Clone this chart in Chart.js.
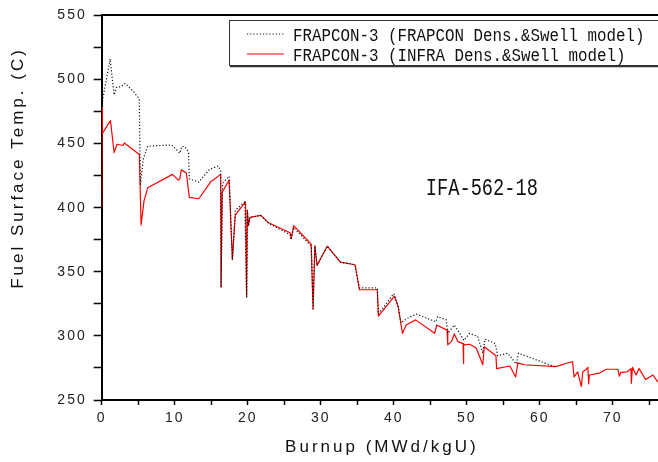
<!DOCTYPE html>
<html>
<head>
<meta charset="utf-8">
<script src="https://cdn.jsdelivr.net/npm/chart.js@4.4.1/dist/chart.umd.min.js"></script>
<style>
  html, body { margin: 0; padding: 0; background: #fff; }
  #wrap { width: 658px; height: 462px; position: relative; }
</style>
</head>
<body>
<div id="wrap"><canvas id="chart" width="658" height="462"></canvas></div>
<script>
// FRAPCON-3 with FRAPCON densification & swelling model (dotted black)
const frapconBurnup = [0, 0.1, 1.15, 1.7, 2.05, 2.7, 3.2, 4.2, 5.15, 5.3, 5.7, 6.3, 9.6, 10.7, 11.0, 11.4, 11.9, 12.0,
  13.3, 14.8, 15.95, 16.3, 16.35, 16.55, 17.45, 17.9, 18.3, 19.6, 19.85, 19.95, 20.1, 20.3, 21.8, 22.8, 25.8, 25.95,
  26.3, 28.7, 28.95, 29.2, 29.5, 30.1, 30.9, 32.7, 34.7, 35.3, 37.75, 37.9, 40.0, 40.6, 41.0, 41.8, 43.1, 45.8, 46.0,
  47.2, 47.4, 48.3, 49.2, 49.6, 50.4, 51.5, 52.2, 52.5, 53.9, 54.25, 55.6, 56.8, 57.1, 61.8, 62.2];
const frapconTemp = [478, 483, 516, 488, 494, 494.5, 497, 491.5, 485, 417.5, 438, 448, 449, 442.5, 448, 447.5, 443.5, 422.5,
  420, 430, 432.5, 429, 338, 419, 424.5, 359.5, 398, 404.5, 330.5, 398, 386, 392.5, 394, 388, 379, 375,
  384.5, 370, 321, 370, 355, 361.5, 370, 357.5, 355.5, 337.5, 337.5, 317, 333, 323, 310, 313.5, 317, 311, 315,
  312.5, 302, 308.5, 300.5, 296.5, 302, 299.5, 286.5, 297.5, 294, 284.5, 286.5, 278, 286.5, 276.5, 276];

// FRAPCON-3 with INFRA densification & swelling model (solid red)
const infraBurnup = [0, 0.05, 0.1, 1.2, 1.7, 2.1, 2.9, 3.1, 5.15, 5.4, 5.8, 6.3, 9.7, 10.5, 10.7, 10.9, 11.6, 12.0, 13.3,
  14.9, 16.3, 16.35, 16.5, 17.45, 17.9, 18.3, 19.7, 19.85, 19.95, 20.1, 20.3, 21.8, 22.8, 25.8, 25.95, 26.3, 28.7,
  28.95, 29.2, 29.5, 30.1, 30.9, 32.7, 34.7, 35.3, 37.75, 37.9, 40.1, 40.6, 41.2, 41.7, 42.2, 43.0, 45.6, 45.9, 47.3,
  47.4, 47.9, 48.3, 48.8, 49.5, 49.55, 49.6, 50.4, 51.3, 52.2, 52.4, 54.0, 54.1, 55.9, 56.7, 57.0, 57.9, 62.2, 64.5,
  64.7, 65.2, 65.7, 65.9, 66.3, 66.6, 66.7, 66.8, 68.2, 69.1, 70.7, 70.9, 71.1, 72.0, 72.5, 72.55, 72.7, 73.2, 73.6,
  74.5, 75.5, 76.2];
const infraTemp = [400, 478, 458, 468, 443, 449.5, 448.5, 450.5, 441.5, 386.5, 405.5, 415.5, 426, 421.5, 422.5, 429.5, 427, 408, 407,
  420, 426, 338, 412, 421.5, 359.5, 394.5, 404.5, 330.5, 398, 386, 392.5, 394, 388.5, 380.5, 376, 386, 371.5,
  321, 370.5, 355, 361.5, 370, 357.5, 355.5, 336, 336, 315.5, 331, 323, 302, 308.5, 310, 312.5, 302, 308.5, 304.5,
  293, 295.5, 301.5, 295.5, 294, 278.5, 293, 293.5, 290.5, 277.5, 291.5, 284.5, 274.5, 276.5, 268, 279, 277.5, 276, 280,
  268, 272, 260.5, 272, 273.5, 275.5, 262.5, 269.5, 271, 274, 274, 268.5, 271.5, 272, 274.5, 263, 275.5, 269.5, 274.5,
  266, 269.5, 264];

const seriesLabels = ['FRAPCON-3 (FRAPCON Dens.&Swell model)', 'FRAPCON-3 (INFRA Dens.&Swell model)'];
const xTitle = 'Burnup (MWd/kgU)';
const yTitle = 'Fuel Surface Temp. (C)';
const noteText = 'IFA-562-18';
const xRange = [0, 76.2];
const yRange = [250, 550];
const xTickStep = 5, xLabelStep = 10;
const yTickStep = 25, yLabelStep = 50;

const toPoints = (xs, ys) => xs.map((x, i) => ({ x: x, y: ys[i] }));

const decorations = {
  id: 'decorations',
  beforeDraw(chart) {
    chart.ctx.letterSpacing = '2px';
  },
  afterDraw(chart) {
    const ctx = chart.ctx;
    const area = chart.chartArea;
    const xs = chart.scales.x, ys = chart.scales.y;
    ctx.save();

    // axis titles
    ctx.fillStyle = '#111';
    ctx.font = '17px "Liberation Sans", Arial, sans-serif';
    ctx.letterSpacing = '3px';
    ctx.textAlign = 'center';
    ctx.textBaseline = 'middle';
    ctx.fillText(xTitle, (area.left + area.right) / 2 + 2, 447);
    ctx.save();
    ctx.translate(18, 168);
    ctx.rotate(-Math.PI / 2);
    ctx.fillText(yTitle, 0, 0);
    ctx.restore();

    // legend box
    ctx.letterSpacing = '0px';
    ctx.fillStyle = '#fff';
    ctx.fillRect(229.5, 20.5, 440, 45);
    ctx.strokeStyle = '#333';
    ctx.lineWidth = 1;
    ctx.strokeRect(229.5, 20.5, 440, 45);
    ctx.lineWidth = 1.5;
    ctx.beginPath();
    ctx.moveTo(230, 66.5); ctx.lineTo(670, 66.5);
    ctx.stroke();

    const ds = chart.data.datasets;
    const rows = [34, 54];
    ds.forEach((d, i) => {
      ctx.save();
      ctx.strokeStyle = d.borderColor;
      ctx.lineWidth = d.borderWidth;
      ctx.setLineDash(d.borderDash || []);
      ctx.beginPath();
      ctx.moveTo(247, rows[i]); ctx.lineTo(284, rows[i]);
      ctx.stroke();
      ctx.restore();
      ctx.fillStyle = '#111';
      ctx.font = '18px "Liberation Mono", monospace';
      ctx.textAlign = 'left';
      ctx.textBaseline = 'alphabetic';
      const w = d.label.length * 9.5;
      ctx.fillText(d.label, 293, rows[i] + 7, w);
    });

    // annotation
    ctx.font = '24px "Liberation Mono", monospace';
    ctx.textAlign = 'left';
    ctx.textBaseline = 'alphabetic';
    ctx.fillStyle = '#111';
    ctx.fillText(noteText, xs.getPixelForValue(44.4), ys.getPixelForValue(410), 112);
    ctx.restore();
  }
};

new Chart(document.getElementById('chart'), {
  type: 'line',
  data: {
    datasets: [
      {
        label: seriesLabels[0],
        data: toPoints(frapconBurnup, frapconTemp),
        borderColor: '#111',
        borderWidth: 1.2,
        borderDash: [1.2, 2],
        borderJoinStyle: 'round',
        pointRadius: 0,
        tension: 0,
        fill: false
      },
      {
        label: seriesLabels[1],
        data: toPoints(infraBurnup, infraTemp),
        borderColor: '#ff0000',
        borderWidth: 1.2,
        borderJoinStyle: 'round',
        pointRadius: 0,
        tension: 0,
        fill: false
      }
    ]
  },
  options: {
    responsive: false,
    animation: false,
    devicePixelRatio: 1,
    layout: { padding: 0 },
    plugins: {
      legend: { display: false },
      tooltip: { enabled: false }
    },
    scales: {
      x: {
        type: 'linear',
        position: 'bottom',
        min: xRange[0],
        max: xRange[1],
        afterFit: (s) => { s.height = 62; },
        border: { color: '#000', width: 2 },
        grid: { drawOnChartArea: false, drawTicks: true, tickLength: 5, tickColor: '#000', tickWidth: 1.5 },
        ticks: {
          stepSize: xTickStep,
          includeBounds: false,
          autoSkip: false,
          maxRotation: 0,
          padding: 5,
          color: '#222',
          font: { family: '"Liberation Sans", Arial, sans-serif', size: 14 },
          callback: (v) => (v % xLabelStep === 0 ? String(v) : '')
        }
      },
      xTop: {
        type: 'linear',
        position: 'top',
        min: xRange[0],
        max: xRange[1],
        afterFit: (s) => { s.height = 15; },
        border: { color: '#000', width: 2 },
        grid: { display: false },
        ticks: { display: false }
      },
      y: {
        type: 'linear',
        min: yRange[0],
        max: yRange[1],
        afterFit: (s) => { s.width = 101.7; },
        border: { color: '#000', width: 2 },
        grid: { drawOnChartArea: false, drawTicks: true, tickLength: 8, tickColor: '#000', tickWidth: 1.5 },
        ticks: {
          stepSize: yTickStep,
          autoSkip: false,
          padding: 7,
          color: '#222',
          font: { family: '"Liberation Sans", Arial, sans-serif', size: 14 },
          callback: (v) => (v % yLabelStep === 0 ? String(v) : '')
        }
      }
    }
  },
  plugins: [decorations]
});
</script>
</body>
</html>
